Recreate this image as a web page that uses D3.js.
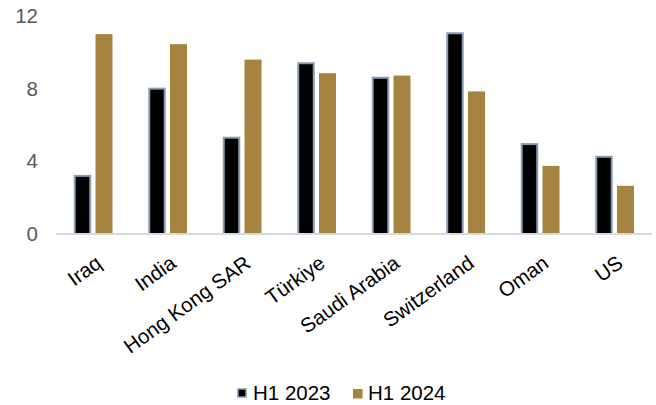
<!DOCTYPE html>
<html>
<head>
<meta charset="utf-8">
<script src="https://cdn.jsdelivr.net/npm/d3@7"></script>
<style>
  html, body { margin: 0; padding: 0; background: #fff; }
  svg { display: block; font-family: "Liberation Sans", Arial, sans-serif; }
</style>
</head>
<body>
<svg id="chart" width="656" height="405"></svg>
<script>
// Data
const categories = ["Iraq", "India", "Hong Kong SAR", "Türkiye", "Saudi Arabia", "Switzerland", "Oman", "US"];
const seriesNames = ["H1 2023", "H1 2024"];
const h1_2023 = [3.2, 8.0, 5.3, 9.4, 8.6, 11.05, 4.95, 4.25];
const h1_2024 = [11.0, 10.45, 9.6, 8.85, 8.72, 7.85, 3.75, 2.65];
const yTicks = [0, 4, 8, 12];

const seriesValues = [h1_2023, h1_2024];
const colors = ["#000000", "#a6833f"];
const strokes = ["#8a9bb3", "none"];
const FONT = "'Liberation Sans', Arial, sans-serif";
const FS = 20.5;

const svg = d3.select("#chart");
const margin = { left: 56, right: 4, top: 16, bottom: 171 };
const W = 656, H = 405;
const baseY = H - margin.bottom;

const x0 = d3.scaleBand().domain(categories).range([margin.left, W - margin.right]).padding(0);
const y = d3.scaleLinear().domain([0, 12]).range([baseY, margin.top]);
const half = 19.25;
const x1 = d3.scaleBand().domain(seriesNames)
  .range([x0.bandwidth() / 2 - half, x0.bandwidth() / 2 + half])
  .paddingInner(0.21).paddingOuter(0);

// Y axis labels (no line, no ticks)
const yAxis = d3.axisLeft(y).tickValues(yTicks).tickSize(0).tickPadding(0).tickFormat(d3.format("d"));
const gy = svg.append("g").attr("transform", `translate(${margin.left - 18},0)`).call(yAxis);
gy.select(".domain").remove();
gy.selectAll("text").attr("font-size", FS).attr("fill", "#595959").attr("font-family", FONT);

// Bars
const groups = svg.append("g").selectAll("g")
  .data(categories)
  .join("g")
  .attr("transform", d => `translate(${x0(d)},0)`);

groups.selectAll("rect")
  .data((c, i) => seriesNames.map((s, k) => ({ s, k, v: seriesValues[k][i] })))
  .join("rect")
  .attr("x", d => x1(d.s) + (d.k === 0 ? 0.75 : 0))
  .attr("width", d => x1.bandwidth() - (d.k === 0 ? 1.5 : 0))
  .attr("y", d => y(d.v))
  .attr("height", d => baseY - y(d.v))
  .attr("fill", d => colors[d.k])
  .attr("stroke", d => strokes[d.k])
  .attr("stroke-width", d => d.k === 0 ? 2 : 0);

// X axis baseline and category labels
const xAxis = d3.axisBottom(x0).tickSize(0).tickPadding(0);
const gx = svg.append("g").attr("transform", `translate(0,${baseY})`).call(xAxis);
gx.select(".domain").attr("stroke", "#d9d9d9").attr("stroke-width", 2)
  .attr("d", `M${margin.left},0H${W - margin.right}`);
gx.selectAll(".tick text")
  .attr("font-size", FS)
  .attr("fill", "#000")
  .attr("font-family", FONT)
  .attr("text-anchor", "end")
  .attr("y", 0).attr("dy", "0.72em")
  .attr("transform", "translate(1,20) rotate(-36)");

// Legend
const legend = svg.append("g");
const legendItems = [
  { name: seriesNames[0], k: 0, x: 238 },
  { name: seriesNames[1], k: 1, x: 353 }
];
legendItems.forEach(it => {
  legend.append("rect")
    .attr("x", it.x).attr("y", 389)
    .attr("width", it.k === 0 ? 8 : 9.5).attr("height", it.k === 0 ? 8 : 9.5)
    .attr("fill", colors[it.k])
    .attr("stroke", strokes[it.k])
    .attr("stroke-width", it.k === 0 ? 1.5 : 0);
  legend.append("text")
    .attr("x", it.x + 15).attr("y", 400)
    .attr("font-size", FS).attr("fill", "#000").attr("font-family", FONT)
    .text(it.name);
});
</script>
</body>
</html>
